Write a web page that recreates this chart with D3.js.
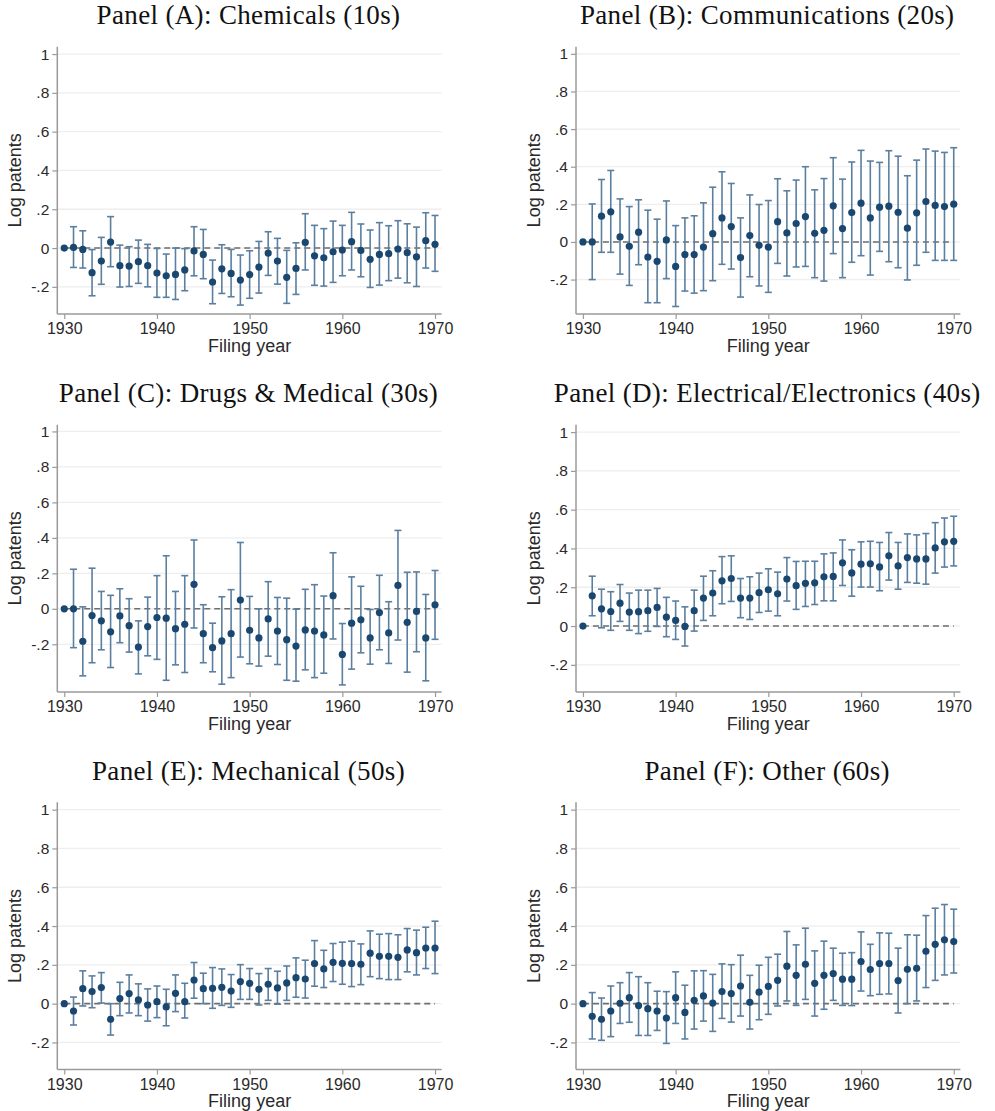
<!DOCTYPE html>
<html>
<head>
<meta charset="utf-8">
<script src="https://cdn.jsdelivr.net/npm/d3@7"></script>
<style>
  html, body { margin: 0; padding: 0; background: #ffffff; }
  svg { display: block; }
</style>
</head>
<body>
<svg id="chart" width="995" height="1111"></svg>
<script>
// Filing years on the x axis
const years = [1930,1931,1932,1933,1934,1935,1936,1937,1938,1939,
               1940,1941,1942,1943,1944,1945,1946,1947,1948,1949,
               1950,1951,1952,1953,1954,1955,1956,1957,1958,1959,
               1960,1961,1962,1963,1964,1965,1966,1967,1968,1969,1970];

const xTicks = [1930, 1940, 1950, 1960, 1970];
const yTicks = [-0.2, 0, 0.2, 0.4, 0.6, 0.8, 1];
const yTickLabels = ["-.2", "0", ".2", ".4", ".6", ".8", "1"];

const panelTitles = [
  "Panel (A): Chemicals (10s)",
  "Panel (B): Communications (20s)",
  "Panel (C): Drugs & Medical (30s)",
  "Panel (D): Electrical/Electronics (40s)",
  "Panel (E): Mechanical (50s)",
  "Panel (F): Other (60s)"
];

// Point estimates and 95% confidence bounds, one triple per technology field
const chemEst = [0,0.003,-0.007,-0.127,-0.067,0.031,-0.091,-0.093,-0.07,-0.091,
  -0.129,-0.143,-0.136,-0.113,-0.015,-0.033,-0.175,-0.107,-0.131,-0.165,
  -0.137,-0.098,-0.026,-0.067,-0.151,-0.105,0.029,-0.04,-0.05,-0.019,
  -0.01,0.033,-0.012,-0.058,-0.033,-0.029,-0.005,-0.024,-0.045,0.038,0.019];
const chemLo = [0,-0.10,-0.103,-0.246,-0.187,-0.096,-0.201,-0.198,-0.182,-0.2,
  -0.254,-0.254,-0.265,-0.22,-0.143,-0.158,-0.287,-0.234,-0.251,-0.294,
  -0.259,-0.232,-0.141,-0.186,-0.285,-0.239,-0.113,-0.192,-0.196,-0.177,
  -0.143,-0.113,-0.148,-0.203,-0.191,-0.168,-0.155,-0.179,-0.198,-0.103,-0.12];
const chemHi = [0,0.11,0.089,-0.008,0.055,0.162,0.015,0.007,0.041,0.019,
  -0.002,-0.031,0,-0.003,0.11,0.096,-0.062,0.017,-0.007,-0.036,
  -0.014,0.034,0.084,0.05,-0.012,0.027,0.177,0.117,0.1,0.139,
  0.117,0.184,0.124,0.093,0.131,0.115,0.141,0.125,0.108,0.182,0.168];

const commEst = [0,0,0.137,0.16,0.027,-0.023,0.052,-0.08,-0.103,0.011,
  -0.13,-0.067,-0.067,-0.027,0.044,0.128,0.082,-0.083,0.034,-0.018,
  -0.027,0.108,0.048,0.098,0.135,0.046,0.062,0.192,0.071,0.156,
  0.206,0.128,0.185,0.19,0.158,0.073,0.155,0.215,0.194,0.188,0.201];
const commLo = [0,-0.2,-0.055,-0.055,-0.171,-0.231,-0.121,-0.323,-0.323,-0.195,
  -0.343,-0.261,-0.272,-0.259,-0.206,-0.119,-0.144,-0.293,-0.185,-0.234,
  -0.268,-0.114,-0.181,-0.133,-0.13,-0.19,-0.208,-0.062,-0.19,-0.108,
  -0.073,-0.176,-0.05,-0.105,-0.137,-0.202,-0.124,-0.055,-0.098,-0.098,-0.098];
const commHi = [0,0.202,0.332,0.38,0.229,0.188,0.224,0.169,0.121,0.218,
  0.087,0.128,0.139,0.208,0.291,0.373,0.311,0.128,0.25,0.199,
  0.22,0.336,0.272,0.329,0.4,0.277,0.337,0.448,0.334,0.425,
  0.487,0.43,0.423,0.485,0.456,0.352,0.435,0.494,0.483,0.476,0.501];

const drugEst = [0,0,-0.183,-0.038,-0.068,-0.13,-0.04,-0.095,-0.216,-0.1,
  -0.049,-0.053,-0.112,-0.087,0.138,-0.14,-0.219,-0.181,-0.14,0.049,
  -0.121,-0.164,-0.057,-0.125,-0.174,-0.21,-0.119,-0.125,-0.147,0.074,
  -0.257,-0.081,-0.062,-0.164,-0.021,-0.136,0.132,-0.076,-0.015,-0.164,0.023];
const drugLo = [0,-0.219,-0.378,-0.304,-0.231,-0.331,-0.191,-0.244,-0.367,-0.265,
  -0.285,-0.403,-0.316,-0.359,-0.108,-0.304,-0.355,-0.425,-0.388,-0.272,
  -0.31,-0.323,-0.267,-0.314,-0.403,-0.408,-0.344,-0.388,-0.363,-0.17,
  -0.429,-0.34,-0.248,-0.312,-0.231,-0.308,-0.176,-0.357,-0.242,-0.406,-0.172];
const drugHi = [0,0.223,0.011,0.229,0.098,0.076,0.113,0.057,-0.068,0.066,
  0.187,0.299,0.098,0.187,0.388,0.023,-0.081,0.068,0.108,0.374,
  0.07,0,0.153,0.064,0.06,-0.002,0.11,0.136,0.072,0.316,
  -0.083,0.18,0.127,-0.004,0.189,0.04,0.442,0.206,0.208,0.081,0.216];

const elecEst = [0,0.156,0.089,0.075,0.118,0.072,0.074,0.079,0.096,0.046,
  0.029,-0.002,0.079,0.144,0.17,0.233,0.245,0.144,0.144,0.172,
  0.187,0.166,0.242,0.208,0.22,0.223,0.254,0.256,0.326,0.274,
  0.319,0.321,0.305,0.362,0.31,0.353,0.346,0.346,0.403,0.434,0.437];
const elecLo = [0,0.053,-0.009,-0.022,0.024,-0.022,-0.039,-0.027,-0.002,-0.055,
  -0.069,-0.103,-0.026,0.029,0.053,0.115,0.127,0.043,0.034,0.07,
  0.077,0.053,0.129,0.086,0.101,0.111,0.13,0.13,0.209,0.154,
  0.201,0.201,0.182,0.237,0.19,0.225,0.221,0.216,0.273,0.304,0.31];
const elecHi = [0,0.257,0.19,0.177,0.214,0.17,0.185,0.185,0.194,0.148,
  0.129,0.099,0.185,0.257,0.285,0.358,0.362,0.245,0.254,0.273,
  0.295,0.278,0.353,0.333,0.334,0.334,0.372,0.377,0.444,0.393,
  0.434,0.437,0.431,0.482,0.431,0.475,0.47,0.477,0.533,0.557,0.566];

const mechEst = [0,-0.038,0.077,0.062,0.083,-0.081,0.026,0.052,0.019,-0.007,
  0.01,-0.017,0.053,0.01,0.122,0.077,0.079,0.084,0.065,0.114,
  0.105,0.074,0.1,0.081,0.107,0.134,0.127,0.207,0.179,0.213,
  0.208,0.207,0.203,0.26,0.244,0.244,0.239,0.277,0.263,0.287,0.287];
const mechLo = [0,-0.11,-0.012,-0.021,0.003,-0.162,-0.062,-0.048,-0.062,-0.09,
  -0.072,-0.114,-0.041,-0.074,0.028,0,-0.024,-0.009,-0.019,0.022,
  0.022,-0.007,0.017,-0.003,0.017,0.033,0.029,0.09,0.083,0.114,
  0.1,0.088,0.098,0.139,0.129,0.124,0.124,0.164,0.148,0.181,0.155];
const mechHi = [0,0.034,0.169,0.143,0.16,0,0.11,0.148,0.102,0.076,
  0.091,0.074,0.148,0.105,0.212,0.157,0.186,0.179,0.15,0.201,
  0.181,0.155,0.181,0.167,0.194,0.236,0.224,0.325,0.275,0.31,
  0.317,0.322,0.308,0.375,0.358,0.361,0.355,0.387,0.379,0.394,0.425];

const otherEst = [0,-0.065,-0.081,-0.038,0.002,0.031,-0.01,-0.026,-0.038,-0.074,
  0.031,-0.045,0.017,0.04,0.003,0.062,0.052,0.091,0.007,0.059,
  0.089,0.12,0.193,0.146,0.203,0.105,0.146,0.155,0.126,0.126,
  0.217,0.176,0.207,0.207,0.119,0.177,0.182,0.27,0.306,0.329,0.32];
const otherLo = [0,-0.182,-0.189,-0.17,-0.102,-0.096,-0.164,-0.164,-0.138,-0.205,
  -0.102,-0.182,-0.131,-0.09,-0.143,-0.076,-0.095,-0.064,-0.131,-0.083,
  -0.055,-0.012,0.014,-0.009,0.022,-0.064,-0.029,0.017,-0.009,-0.01,
  0.065,0.041,0.048,0.05,-0.048,0,0.014,0.083,0.12,0.148,0.158];
const otherHi = [0,0.057,0.029,0.091,0.108,0.16,0.139,0.108,0.064,0.062,
  0.164,0.095,0.169,0.17,0.151,0.205,0.201,0.25,0.146,0.198,
  0.239,0.255,0.372,0.303,0.389,0.272,0.322,0.286,0.26,0.263,
  0.37,0.306,0.365,0.363,0.286,0.355,0.353,0.454,0.492,0.511,0.487];

const panels = [
  { title: panelTitles[0], est: chemEst,  lo: chemLo,  hi: chemHi },
  { title: panelTitles[1], est: commEst,  lo: commLo,  hi: commHi },
  { title: panelTitles[2], est: drugEst,  lo: drugLo,  hi: drugHi },
  { title: panelTitles[3], est: elecEst,  lo: elecLo,  hi: elecHi },
  { title: panelTitles[4], est: mechEst,  lo: mechLo,  hi: mechHi },
  { title: panelTitles[5], est: otherEst, lo: otherLo, hi: otherHi }
];

// ---- layout & style ----
const colLeft = [57.3, 576];
const rowTop = [46.7, 424.7, 802.3];
const plotW = 384.4;
const plotH = 267.3;
const titleOffset = 22.5;   // title baseline above plot top

const markerColor = "#1a476f";
const ciColor = "#5b7f9f";
const axisColor = "#9a9a9a";
const gridColor = "#eeeeee";
const refColor = "#6e6e6e";
const textColor = "#2a2a2a";

const svg = d3.select("#chart");

panels.forEach((p, i) => {
  const col = i % 2, row = Math.floor(i / 2);
  const left = colLeft[col], top = rowTop[row];

  const yMin = Math.min(-0.3, d3.min(p.lo)) - 0.04;
  const x = d3.scaleLinear().domain([1929.25, 1970.72]).range([0, plotW]);
  const y = d3.scaleLinear().domain([yMin, 1.038]).range([plotH, 0]);

  const g = svg.append("g").attr("transform", `translate(${left},${top})`);

  // panel title
  g.append("text")
    .attr("x", plotW / 2 - 1)
    .attr("y", -titleOffset)
    .attr("text-anchor", "middle")
    .style("font-family", "'Liberation Serif', 'Times New Roman', serif")
    .style("font-size", "27px")
    .style("letter-spacing", "0.35px")
    .style("fill", "#111")
    .text(p.title);

  // horizontal gridlines
  g.append("g").selectAll("line").data(yTicks).join("line")
    .attr("x1", 0).attr("x2", plotW)
    .attr("y1", d => y(d)).attr("y2", d => y(d))
    .attr("stroke", gridColor).attr("stroke-width", 1.3);

  // zero reference line
  g.append("line")
    .attr("x1", x(1930)).attr("x2", x(1970))
    .attr("y1", y(0)).attr("y2", y(0))
    .attr("stroke", refColor).attr("stroke-width", 1.6)
    .attr("stroke-dasharray", "6,4");

  // y axis
  const yAxis = d3.axisLeft(y).tickValues(yTicks)
    .tickFormat((d, k) => yTickLabels[k]).tickSize(5).tickPadding(3);
  const ya = g.append("g").call(yAxis);
  ya.select(".domain").attr("d", `M0,0V${plotH}`).attr("stroke", axisColor).attr("stroke-width", 1.5);
  ya.selectAll(".tick line").attr("stroke", axisColor).attr("stroke-width", 1.2);
  ya.selectAll(".tick text")
    .style("font-family", "'Liberation Sans', Arial, sans-serif")
    .style("font-size", "15.5px").style("fill", textColor);

  // x axis
  const xAxis = d3.axisBottom(x).tickValues(xTicks)
    .tickFormat(d3.format("d")).tickSize(5).tickPadding(4);
  const xa = g.append("g").attr("transform", `translate(0,${plotH})`).call(xAxis);
  xa.select(".domain").attr("d", `M0,0H${plotW}`).attr("stroke", axisColor).attr("stroke-width", 1.5);
  xa.selectAll(".tick line").attr("stroke", axisColor).attr("stroke-width", 1.2);
  xa.selectAll(".tick text")
    .style("font-family", "'Liberation Sans', Arial, sans-serif")
    .style("font-size", "16px").style("fill", textColor);

  // axis titles
  g.append("text")
    .attr("transform", `translate(${-36.5},${plotH / 2}) rotate(-90)`)
    .attr("text-anchor", "middle")
    .style("font-family", "'Liberation Sans', Arial, sans-serif")
    .style("font-size", "18px").style("fill", textColor)
    .text("Log patents");
  g.append("text")
    .attr("x", x(1950))
    .attr("y", plotH + 37.8)
    .attr("text-anchor", "middle")
    .style("font-family", "'Liberation Sans', Arial, sans-serif")
    .style("font-size", "18px").style("fill", textColor)
    .text("Filing year");

  // confidence intervals with caps
  const rows = years.map((yr, k) => ({ yr, est: p.est[k], lo: p.lo[k], hi: p.hi[k] }))
    .filter(d => d.hi > d.lo);
  const ci = g.append("g").attr("stroke", ciColor).attr("stroke-width", 1.6).attr("fill", "none");
  ci.selectAll("line.bar").data(rows).join("line").attr("class", "bar")
    .attr("x1", d => x(d.yr)).attr("x2", d => x(d.yr))
    .attr("y1", d => y(d.lo)).attr("y2", d => y(d.hi));
  ci.selectAll("line.capHi").data(rows).join("line").attr("class", "capHi")
    .attr("x1", d => x(d.yr) - 3.5).attr("x2", d => x(d.yr) + 3.5)
    .attr("y1", d => y(d.hi)).attr("y2", d => y(d.hi));
  ci.selectAll("line.capLo").data(rows).join("line").attr("class", "capLo")
    .attr("x1", d => x(d.yr) - 3.5).attr("x2", d => x(d.yr) + 3.5)
    .attr("y1", d => y(d.lo)).attr("y2", d => y(d.lo));

  // point estimates
  g.append("g").selectAll("circle").data(years).join("circle")
    .attr("cx", d => x(d))
    .attr("cy", (d, k) => y(p.est[k]))
    .attr("r", 3.6)
    .attr("fill", markerColor);
});
</script>
</body>
</html>
